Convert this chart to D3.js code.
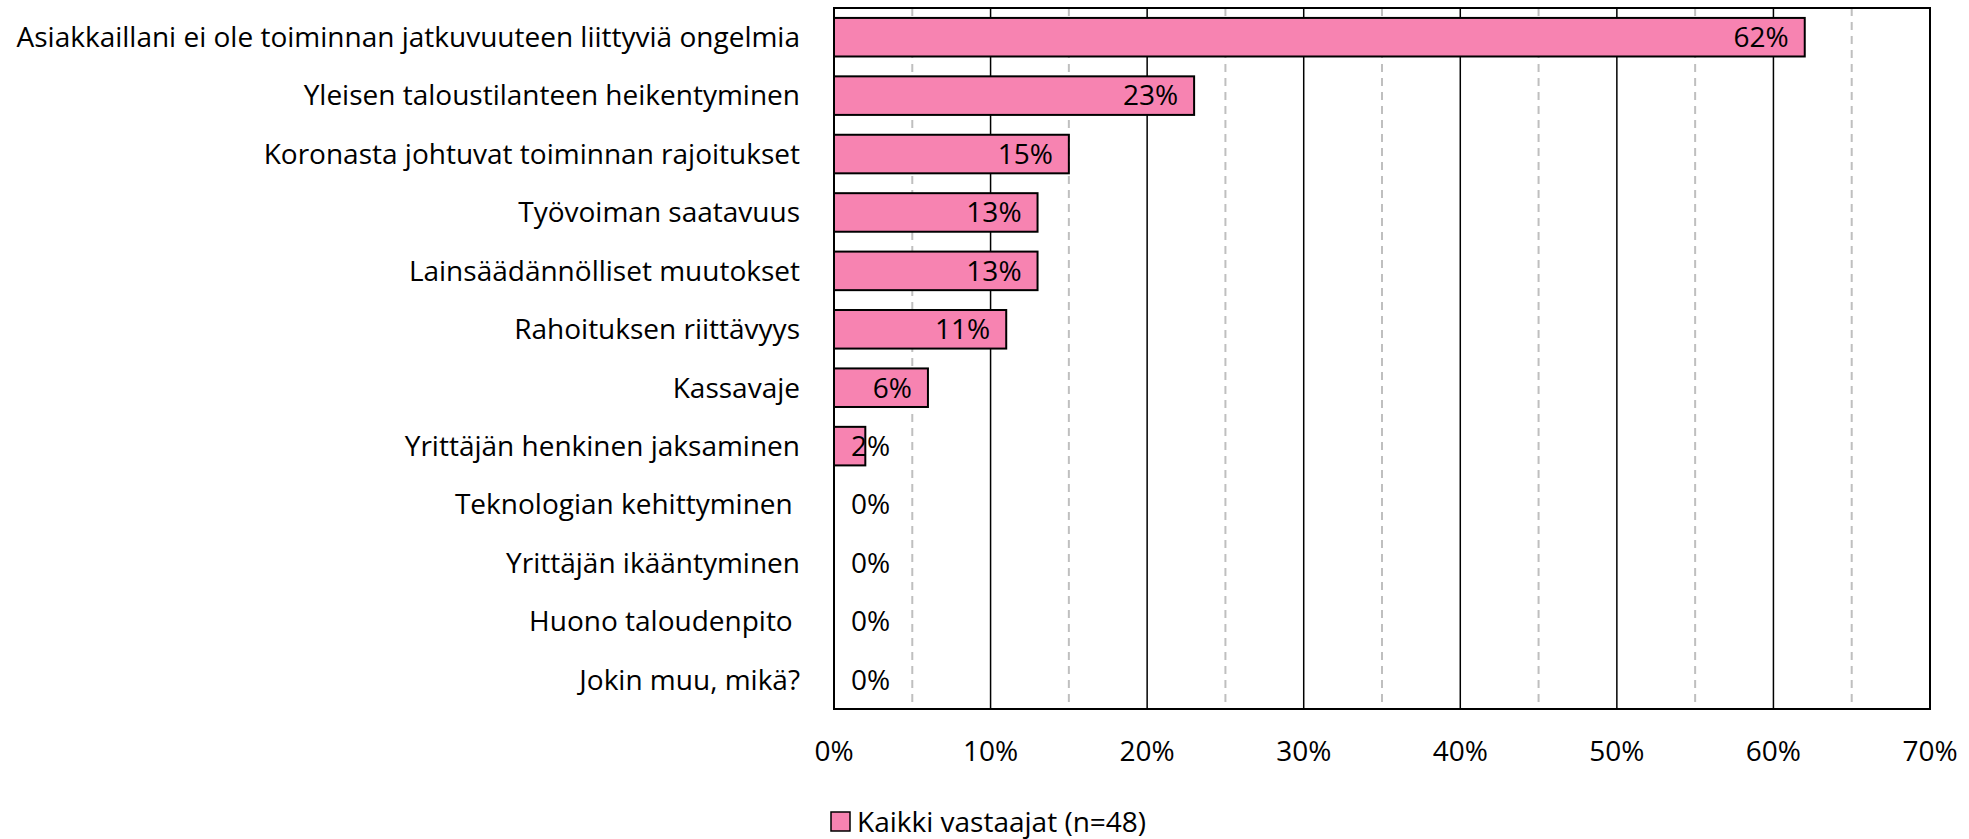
<!DOCTYPE html>
<html>
<head>
<meta charset="utf-8">
<script src="https://cdn.jsdelivr.net/npm/d3@7"></script>
<style>
  html, body { margin: 0; padding: 0; background: #fff; }
  svg text { font-family: "Open Sans", Lato, sans-serif; fill: #000; white-space: pre; }
</style>
</head>
<body>
<svg id="chart" width="1969" height="839"></svg>
<script>
const categories = [
  "Asiakkaillani ei ole toiminnan jatkuvuuteen liittyviä ongelmia",
  "Yleisen taloustilanteen heikentyminen",
  "Koronasta johtuvat toiminnan rajoitukset",
  "Työvoiman saatavuus",
  "Lainsäädännölliset muutokset",
  "Rahoituksen riittävyys",
  "Kassavaje",
  "Yrittäjän henkinen jaksaminen",
  "Teknologian kehittyminen ",
  "Yrittäjän ikääntyminen",
  "Huono taloudenpito ",
  "Jokin muu, mikä?",
];
const values = [62, 23, 15, 13, 13, 11, 6, 2, 0, 0, 0, 0];
const majorTicks = [0, 10, 20, 30, 40, 50, 60, 70];
const minorTicks = [5, 15, 25, 35, 45, 55, 65];
const seriesName = "Kaikki vastaajat (n=48)";

const fontSize = "28px";
const margin = { top: 8, right: 39, bottom: 130, left: 834 };
const width = 1969 - margin.left - margin.right;
const height = 839 - margin.top - margin.bottom;

const svg = d3.select("#chart");
const g = svg.append("g").attr("transform", `translate(${margin.left},${margin.top})`);

const x = d3.scaleLinear().domain([0, 70]).range([0, width]);
const y = d3.scaleBand().domain(categories).range([0, height]).paddingInner(0.34).paddingOuter(0.17);

// dashed minor gridlines
g.selectAll("line.minor")
  .data(minorTicks)
  .enter()
  .append("line")
  .attr("class", "minor")
  .attr("x1", (d) => x(d))
  .attr("x2", (d) => x(d))
  .attr("y1", 0)
  .attr("y2", height)
  .attr("stroke", "#bfbfbf")
  .attr("stroke-width", 2)
  .attr("stroke-dasharray", "8,6");

// solid major gridlines
g.selectAll("line.major")
  .data(majorTicks.slice(1, -1))
  .enter()
  .append("line")
  .attr("class", "major")
  .attr("x1", (d) => x(d))
  .attr("x2", (d) => x(d))
  .attr("y1", 0)
  .attr("y2", height)
  .attr("stroke", "#000")
  .attr("stroke-width", 1.5);

// bars
g.selectAll("rect.bar")
  .data(values.map((v, i) => ({ cat: categories[i], v })).filter((d) => d.v > 0))
  .enter()
  .append("rect")
  .attr("class", "bar")
  .attr("x", x(0))
  .attr("y", (d) => y(d.cat))
  .attr("width", (d) => x(d.v) - x(0))
  .attr("height", y.bandwidth())
  .attr("fill", "#f783b1")
  .attr("stroke", "#000")
  .attr("stroke-width", 2);

// plot frame
g.append("rect")
  .attr("x", 0)
  .attr("y", 0)
  .attr("width", width)
  .attr("height", height)
  .attr("fill", "none")
  .attr("stroke", "#000")
  .attr("stroke-width", 2);

// value labels (inside end, clamped at left)
const labels = g.selectAll("text.val")
  .data(values.map((v, i) => ({ cat: categories[i], v })))
  .enter()
  .append("text")
  .attr("class", "val")
  .attr("y", (d) => y(d.cat) + y.bandwidth() / 2)
  .attr("dy", "0.35em")
  .style("font-size", fontSize)
  .text((d) => d.v + "%");
labels.each(function (d) {
  const w = this.getComputedTextLength();
  const xr = x(d.v) - 16 - w;
  d3.select(this).attr("x", Math.max(17, xr));
});

// category labels
g.selectAll("text.cat")
  .data(categories)
  .enter()
  .append("text")
  .attr("class", "cat")
  .attr("x", -34)
  .attr("y", (d) => y(d) + y.bandwidth() / 2)
  .attr("dy", "0.35em")
  .attr("text-anchor", "end")
  .style("font-size", fontSize)
  .text((d) => d);

// x axis tick labels
g.selectAll("text.tick")
  .data(majorTicks)
  .enter()
  .append("text")
  .attr("class", "tick")
  .attr("x", (d) => x(d))
  .attr("y", height + 42)
  .attr("dy", "0.35em")
  .attr("text-anchor", "middle")
  .style("font-size", fontSize)
  .text((d) => d + "%");

// legend
const legend = svg.append("g").attr("transform", "translate(831,812)");
legend.append("rect")
  .attr("width", 19)
  .attr("height", 19)
  .attr("fill", "#f783b1")
  .attr("stroke", "#000")
  .attr("stroke-width", 1.5);
legend.append("text")
  .attr("x", 26)
  .attr("y", 10)
  .attr("dy", "0.35em")
  .style("font-size", fontSize)
  .text(seriesName);
</script>
</body>
</html>
